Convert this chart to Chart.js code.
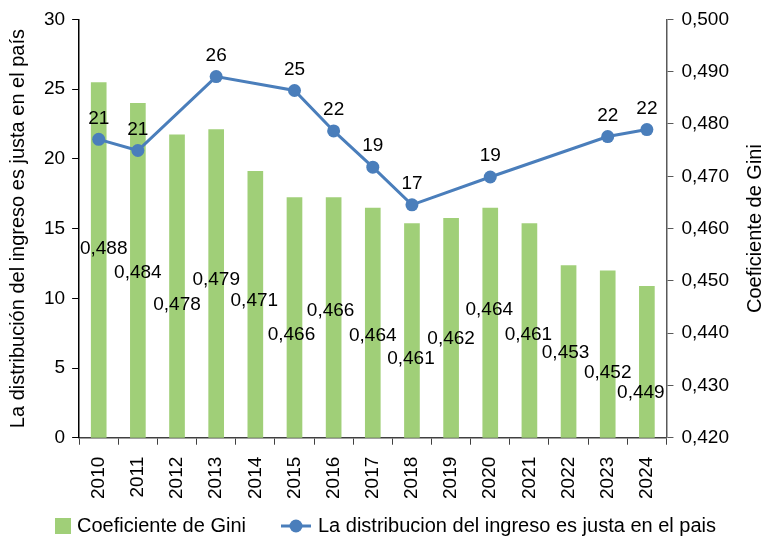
<!DOCTYPE html>
<html>
<head>
<meta charset="utf-8">
<script src="https://cdn.jsdelivr.net/npm/chart.js@4"></script>
<style>
    html, body { margin: 0; padding: 0; background: #fff; }
    #wrap { width: 765px; height: 539px; }
</style>
</head>
<body>
<div id="wrap"><canvas id="grafico" width="765" height="539"></canvas></div>
<script>
// ==========================
// Datos
// ==========================

const anios = ['2010', '2011', '2012', '2013', '2014', '2015', '2016', '2017',
               '2018', '2019', '2020', '2021', '2022', '2023', '2024'];

// Coeficiente de Gini (eje derecho)
const gini = [0.488, 0.484, 0.478, 0.479, 0.471, 0.466, 0.466, 0.464,
              0.461, 0.462, 0.464, 0.461, 0.453, 0.452, 0.449];

// % que cree que la distribucion del ingreso es justa (eje izquierdo)
const justa = [21.4, 20.6, null, 25.9, null, 24.9, 22.0, 19.4,
               16.7, null, 18.7, null, null, 21.6, 22.1];

const ticksIzq = [0, 5, 10, 15, 20, 25, 30];
const ticksDer = [0.42, 0.43, 0.44, 0.45, 0.46, 0.47, 0.48, 0.49, 0.50];

const nombreGini = 'Coeficiente de Gini';
const nombreJusta = 'La distribucion del ingreso es justa en el pais';
const tituloIzq = 'La distribución del ingreso es justa en el país';
const tituloDer = 'Coeficiente de Gini';

// ==========================
// Estilos
// ==========================

const fuente = '"Liberation Sans", Arial, sans-serif';
const verde = '#A0CF78';
const azul = '#4A7EBB';

// desplazamiento de las etiquetas de las barras (px respecto al tope)
const desplEtiqY = [167, 170, 170, 151, 130, 138, 114, 128, 135, 121, 102, 111, 88, 102, 107];
const desplEtiqX = [5, 0, 0, 0, -1, -3, -3, 0, -1, 0, -1, -1, -3, 0, -6];

const coma = v => v.toFixed(3).replace('.', ',');

// ==========================
// Plugin: etiquetas, titulo derecho y leyenda
// ==========================

const extras = {
    id: 'extras',
    afterDatasetsDraw(chart) {
        const ctx = chart.ctx;
        ctx.save();
        ctx.fillStyle = '#000';
        ctx.font = '19px ' + fuente;
        ctx.textAlign = 'center';
        ctx.textBaseline = 'middle';

        // etiquetas de barras
        const barras = chart.getDatasetMeta(1).data;
        barras.forEach((el, i) => {
            ctx.fillText(coma(gini[i]), el.x + desplEtiqX[i], el.y + desplEtiqY[i]);
        });

        // etiquetas de la linea
        const puntos = chart.getDatasetMeta(0).data;
        puntos.forEach((el, i) => {
            if (justa[i] == null) return;
            ctx.fillText(String(Math.round(justa[i])), el.x, el.y - 21);
        });

        // titulo del eje derecho
        const area = chart.chartArea;
        ctx.font = '20px ' + fuente;
        ctx.translate(755, (area.top + area.bottom) / 2);
        ctx.rotate(-Math.PI / 2);
        ctx.fillText(tituloDer, 0, 0);
        ctx.restore();

        // leyenda
        ctx.save();
        ctx.font = '20px ' + fuente;
        ctx.fillStyle = '#000';
        ctx.textBaseline = 'middle';
        const yLey = 526;
        let x = 55;
        ctx.fillStyle = verde;
        ctx.fillRect(x, yLey - 8, 16, 16);
        x += 22;
        ctx.fillStyle = '#000';
        ctx.fillText(nombreGini, x, yLey);
        x += ctx.measureText(nombreGini).width + 35;
        ctx.strokeStyle = azul;
        ctx.lineWidth = 3;
        ctx.beginPath();
        ctx.moveTo(x, yLey);
        ctx.lineTo(x + 30, yLey);
        ctx.stroke();
        ctx.fillStyle = azul;
        ctx.beginPath();
        ctx.arc(x + 15, yLey, 6.5, 0, Math.PI * 2);
        ctx.fill();
        x += 37;
        ctx.fillStyle = '#000';
        ctx.fillText(nombreJusta, x, yLey);
        ctx.restore();
    }
};

// ==========================
// Grafico
// ==========================

new Chart(document.getElementById('grafico'), {
    type: 'bar',
    data: {
        labels: anios,
        datasets: [
            {
                type: 'line',
                label: nombreJusta,
                data: justa,
                yAxisID: 'y',
                borderColor: azul,
                backgroundColor: azul,
                borderWidth: 3,
                pointRadius: 6.5,
                pointHoverRadius: 6.5,
                pointBorderWidth: 0,
                spanGaps: true,
                order: 0
            },
            {
                type: 'bar',
                label: nombreGini,
                data: gini,
                yAxisID: 'y1',
                backgroundColor: verde,
                barPercentage: 0.4,
                categoryPercentage: 1,
                order: 1
            }
        ]
    },
    options: {
        responsive: false,
        animation: false,
        layout: { padding: { top: 2, right: 28, bottom: 28, left: 0 } },
        plugins: {
            legend: { display: false },
            tooltip: { enabled: false }
        },
        scales: {
            x: {
                offset: true,
                grid: { drawOnChartArea: false, tickLength: 7, color: '#404040', offset: true },
                border: { color: '#404040', width: 1.5 },
                ticks: {
                    font: { family: fuente, size: 19 },
                    color: '#000',
                    maxRotation: 90,
                    minRotation: 90,
                    padding: 12,
                    autoSkip: false
                }
            },
            y: {
                position: 'left',
                min: ticksIzq[0],
                max: ticksIzq[ticksIzq.length - 1],
                afterBuildTicks: s => { s.ticks = ticksIzq.map(v => ({ value: v })); },
                ticks: { font: { family: fuente, size: 19 }, color: '#000', padding: 7 },
                grid: { drawOnChartArea: false, tickLength: 7, color: '#000' },
                border: { color: '#000', width: 1.5 },
                title: {
                    display: true,
                    text: tituloIzq,
                    color: '#000',
                    font: { family: fuente, size: 20 },
                    padding: { top: 6, bottom: 7 }
                }
            },
            y1: {
                position: 'right',
                min: ticksDer[0],
                max: ticksDer[ticksDer.length - 1],
                afterBuildTicks: s => { s.ticks = ticksDer.map(v => ({ value: v })); },
                ticks: {
                    font: { family: fuente, size: 19 },
                    color: '#000',
                    padding: 8,
                    callback: v => coma(v)
                },
                grid: { drawOnChartArea: false, tickLength: 7, color: '#595959' },
                border: { color: '#595959', width: 1.5 }
            }
        }
    },
    plugins: [extras]
});
</script>
</body>
</html>
